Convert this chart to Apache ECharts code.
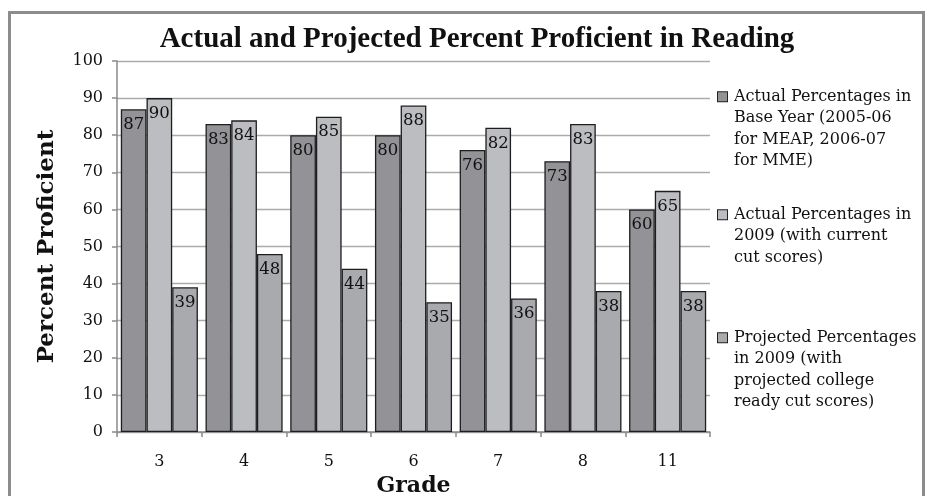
<!DOCTYPE html>
<html><head><meta charset="utf-8">
<script src="https://cdn.jsdelivr.net/npm/echarts@6/dist/echarts.min.js"></script>
<style>
html,body{margin:0;padding:0;background:#fff;overflow:hidden}
#frame{position:absolute;left:8px;top:11px;width:917px;height:500px;border:3px solid #8c8c8c;box-sizing:border-box}
#c{position:absolute;left:0;top:0;width:934px;height:496px}
</style></head><body>
<div id="frame"></div>
<div id="c"></div>
<script>
const categories = ['3','4','5','6','7','8','11'];
const seriesNames = [
  'Actual Percentages in Base Year (2005-06 for MEAP, 2006-07 for MME)',
  'Actual Percentages in 2009 (with current cut scores)',
  'Projected Percentages in 2009 (with projected college ready cut scores)'
];
const legendLines = [
  ['Actual Percentages in','Base Year (2005-06','for MEAP, 2006-07','for MME)'],
  ['Actual Percentages in','2009 (with current','cut scores)'],
  ['Projected Percentages','in 2009 (with','projected college','ready cut scores)']
];
const baseYear = [87,83,80,80,76,73,60];
const actual2009 = [90,84,85,88,82,83,65];
const projected2009 = [39,48,44,35,36,38,38];
const yTicks = [0,10,20,30,40,50,60,70,80,90,100];
const colors = ['#939397','#bcbdc1','#a9aaae'];
const serif = 'DejaVu Serif';

const chart = echarts.init(document.getElementById('c'));
const data = [baseYear, actual2009, projected2009];
const series = data.map((d,i)=>({
  name: seriesNames[i], type:'bar', data:d,
  barGap:'0%', barCategoryGap:'9%',
  itemStyle:{color:colors[i], borderColor:'#1e1e1e', borderWidth:1.3},
  label:{show:true, position:'insideTop', distance:7, color:'#111', fontFamily:serif, fontSize:16.5},
  emphasis:{disabled:true}
}));
const legendTops = [86,204,327];
const legends = seriesNames.map((n,i)=>({
  orient:'vertical', left:712, top:legendTops[i], data:[n], padding:0,
  itemWidth:0, itemHeight:0, itemGap:0, itemStyle:{opacity:0}, selectedMode:false,
  formatter: () => legendLines[i].map((l,k)=> k===0 ? '{sq'+i+'|}{g|}'+l : '{ind|}'+l).join('\n'),
  textStyle:{fontFamily:serif, fontSize:16, color:'#111', lineHeight:21.5,
    rich:{
      sq0:{width:9,height:9,backgroundColor:colors[0],borderColor:'#222',borderWidth:1},
      sq1:{width:9,height:9,backgroundColor:colors[1],borderColor:'#222',borderWidth:1},
      sq2:{width:9,height:9,backgroundColor:colors[2],borderColor:'#222',borderWidth:1},
      g:{width:7}, ind:{width:16}
    }}
}));
chart.setOption({
  animation:false,
  title:{text:'Actual and Projected Percent Proficient in Reading', left:472, textAlign:'center', top:20,
    textStyle:{fontFamily:'Liberation Serif', fontWeight:'bold', fontSize:29, color:'#111'}},
  grid:{left:117, right:224, top:61, bottom:64, outerBoundsMode:'none', containLabel:false},
  legend: legends,
  xAxis:{type:'category', data:categories, name:'Grade', nameLocation:'middle', nameGap:42,
    nameTextStyle:{fontFamily:serif, fontWeight:'bold', fontSize:22, color:'#111'},
    axisLine:{lineStyle:{color:'#8a8a8a', width:1.5}},
    axisTick:{show:true, length:5, lineStyle:{color:'#8a8a8a', width:1.5}},
    axisLabel:{fontFamily:serif, fontSize:16, color:'#111', margin:22}},
  yAxis:{type:'value', min:0, max:100, interval:10, name:'Percent Proficient', nameLocation:'middle', nameGap:58,
    nameTextStyle:{fontFamily:serif, fontWeight:'bold', fontSize:23, color:'#111'},
    axisLine:{show:true, lineStyle:{color:'#8a8a8a', width:1.5}},
    axisTick:{show:true, length:5, lineStyle:{color:'#8a8a8a', width:1.5}},
    splitLine:{lineStyle:{color:'#ababab', width:1.3}},
    axisLabel:{fontFamily:serif, fontSize:16, color:'#111', margin:14,
      formatter: v => yTicks.includes(v) ? String(v) : ''}},
  series
});
</script>
</body></html>
